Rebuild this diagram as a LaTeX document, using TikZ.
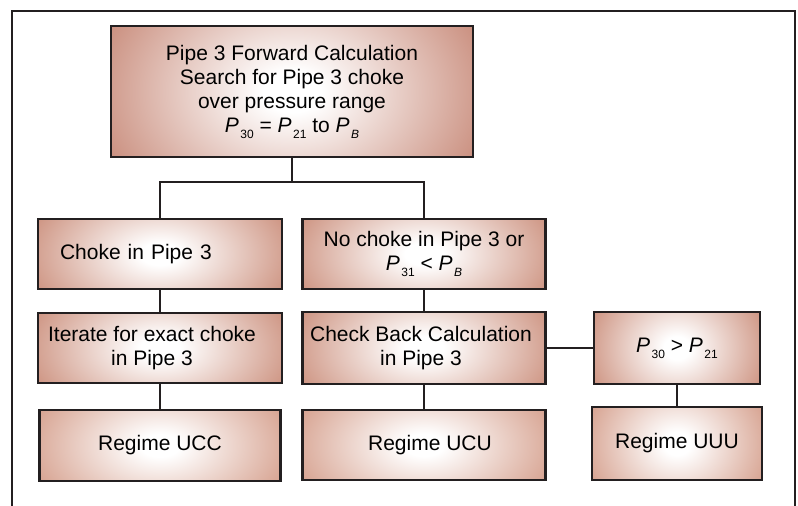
\documentclass[tikz,border=0pt]{standalone}
\usepackage{fontspec}
\setmainfont{Liberation Sans}
\definecolor{edgeline}{RGB}{35,31,32}
\definecolor{topc}{RGB}{196,130,112}
\definecolor{midc}{RGB}{200,136,116}
\definecolor{lowc}{RGB}{210,152,132}
\colorlet{boxc}{topc}
\pgfdeclareradialshading[boxc]{boxshade}{\pgfpoint{0bp}{0bp}}{color(0bp)=(white); color(4bp)=(white); color(31bp)=(boxc); color(50bp)=(boxc)}
\newcommand\Psb[1]{\textit{P}\kern1.5pt\raisebox{-6pt}{\fontsize{12}{12}\selectfont #1}}
\newcommand\PsbI[1]{\textit{P}\kern1.5pt\raisebox{-6pt}{\fontsize{12}{12}\selectfont\itshape #1}}
\tikzset{
  fbox/.style={draw=edgeline, line width=2.5pt, fill=boxc, align=center,
    font=\fontsize{21}{24}\selectfont, inner sep=2pt,
    path picture={
      \pgfpointdiff{\pgfpointanchor{path picture bounding box}{south west}}{\pgfpointanchor{path picture bounding box}{north east}}
      \pgfgetlastxy{\myBW}{\myBH}
      \shade[shading=boxshade] ([shift={(-0.5*\myBW,-1.0*\myBH)}]path picture bounding box.center) rectangle ([shift={(0.5*\myBW,1.0*\myBH)}]path picture bounding box.center);
    }},
  boxcol/.code={\colorlet{boxc}{#1}},
  conn/.style={draw=edgeline, line width=2.5pt},
}
\begin{document}
\begin{tikzpicture}[x=1pt,y=-1pt]
\useasboundingbox (0,0) rectangle (798,506);
\draw[conn] (12,506) -- (12,11) -- (795,11) -- (795,506);
\node[fbox, boxcol=topc, minimum width=362pt, minimum height=131pt] (top) at (292,91.5)
  {Pipe 3 Forward Calculation\\Search for Pipe 3 choke\\over pressure range\\\Psb{30} = \Psb{21} to \PsbI{B}};
\node[fbox, boxcol=midc, minimum width=244pt, minimum height=70pt, align=left, text width=200pt, inner xsep=22pt] (choke) at (160,254) {Choke in Pipe 3};
\node[fbox, boxcol=midc, minimum width=243pt, minimum height=70pt] (nochoke) at (424,254)
  {No choke in Pipe 3 or\\\Psb{31} < \PsbI{B}};
\node[fbox, boxcol=midc, minimum width=244pt, minimum height=70pt] (iter) at (160,348)
  {\hspace*{-16pt}Iterate for exact choke\\\hspace*{-16pt}in Pipe 3};
\node[fbox, boxcol=midc, minimum width=243pt, minimum height=72pt] (check) at (424,348)
  {\hspace*{-6pt}Check Back Calculation\\\hspace*{-6pt}in Pipe 3};
\node[fbox, boxcol=midc, minimum width=166pt, minimum height=72pt] (pcmp) at (677,348)
  {\Psb{30} > \Psb{21}};
\node[fbox, boxcol=lowc, minimum width=241pt, minimum height=71pt] (ucc) at (160,445.5) {Regime UCC};
\node[fbox, boxcol=lowc, minimum width=243pt, minimum height=70pt] (ucu) at (424,445) {\hspace*{12pt}Regime UCU};
\node[fbox, boxcol=lowc, minimum width=170pt, minimum height=73pt] (uuu) at (677,443.5) {Regime UUU};
\coordinate (j) at (292,182);
\draw[conn] (top.south) -- (j);
\draw[conn] (choke.north) |- (j) -| (nochoke.north);
\draw[conn] (choke.south) -- (iter.north);
\draw[conn] (iter.south) -- (ucc.north);
\draw[conn] (nochoke.south) -- (check.north);
\draw[conn] (check.south) -- (ucu.north);
\draw[conn] (check.east) -- (pcmp.west);
\draw[conn] (pcmp.south) -- (uuu.north);
\end{tikzpicture}
\end{document}
